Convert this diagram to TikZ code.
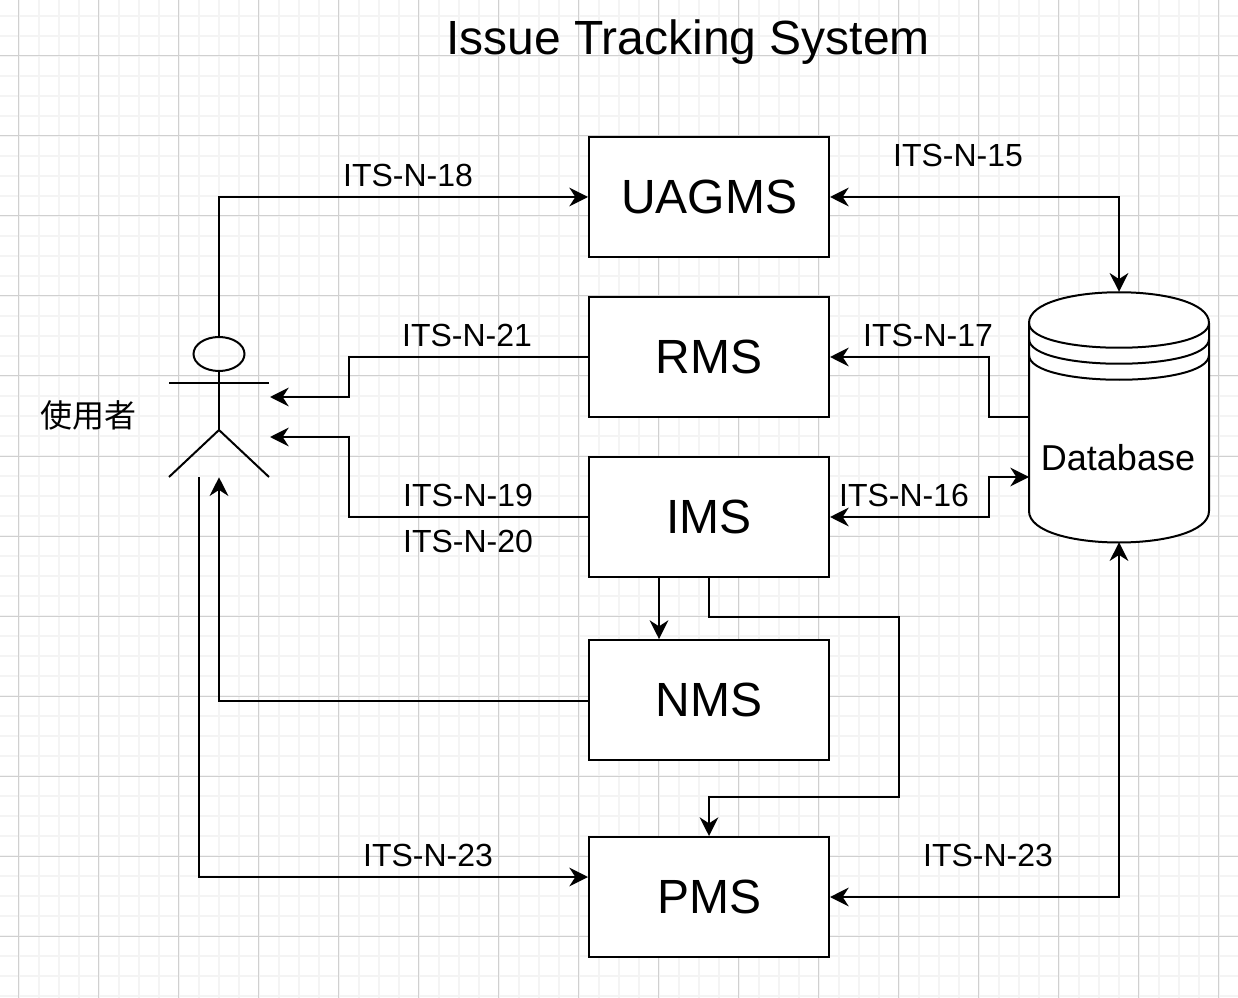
\documentclass[tikz,border=0pt]{standalone}
\usepackage{fontspec}
\setmainfont{Liberation Sans}
\newfontfamily\cjk{Noto Sans CJK SC}
\usetikzlibrary{arrows.meta}
\definecolor{gridminor}{HTML}{F4F4F4}
\definecolor{gridmajor}{HTML}{D0D0D0}
\tikzset{
	sysbox/.style={draw=black,line width=1.5pt,fill=white,minimum width=180pt,minimum height=90pt,inner sep=0pt,font=\fontsize{36}{36}\selectfont},
	tag/.style={inner sep=0pt,font=\fontsize{24}{24}\selectfont},
	link/.style={line width=1.5pt,>={Stealth[length=14pt,width=14pt,inset=4.5pt]}},
}
\begin{document}
\begin{tikzpicture}[x=0.75pt,y=-0.75pt]
	\useasboundingbox (0,0) rectangle (1238,998);
	\fill[white] (0,0) rectangle (1238,998);
	
	%GRID
	\foreach \i in {18.5,38.5,...,1238}{
		\draw[gridminor,line width=1.5pt] (\i,0)--(\i,998);
	}
	\foreach \i in {16,36,...,998}{
		\draw[gridminor,line width=1.5pt] (0,\i)--(1238,\i);
	}
	\foreach \i in {18.5,98.5,...,1238}{
		\draw[gridmajor,line width=0.75pt] (\i,0)--(\i,998);
	}
	\foreach \i in {56,136,...,998}{
		\draw[gridmajor,line width=0.75pt] (0,\i)--(1238,\i);
	}
	
	\node[inner sep=0pt,font=\fontsize{36}{36}\selectfont] (title) at (688,42) {Issue Tracking System};
	
	%SYSTEM BOXES
	\node[sysbox] (uagms) at (709,197) {UAGMS};
	\node[sysbox] (rms) at (709,357) {RMS};
	\node[sysbox] (ims) at (709,517) {IMS};
	\node[sysbox] (nms) at (709,700) {NMS};
	\node[sysbox] (pms) at (709,897) {PMS};
	
	%DATABASE
	\def\x{1029} \def\y{292}
	\draw[line width=1.5pt,fill=white] (\x,\y+31) .. controls (\x,\y-10) and (\x+180,\y-10) .. (\x+180,\y+31)--(\x+180,\y+219) .. controls (\x+180,\y+261) and (\x,\y+261) .. (\x,\y+219)--cycle;
	\foreach \i in {31,47,63}{
		\draw[line width=1.5pt] (\x,\y+\i) .. controls (\x,\y+\i+33) and (\x+180,\y+\i+33) .. (\x+180,\y+\i);
	}
	\node[minimum width=135pt,minimum height=187.5pt,inner sep=0pt] (db) at (1119,417) {};
	\node[inner sep=0pt,font=\fontsize{27}{27}\selectfont] (dbtext) at (1118,458) {Database};
	\coordinate (dbin) at (1029,477);
	
	%ACTOR
	\node[minimum width=75pt,minimum height=105pt,inner sep=0pt] (actor) at (219,407) {};
	\draw[line width=1.5pt] (219,354) ellipse (25.5 and 17);
	\draw[line width=1.5pt] (219,371)--(219,430);
	\draw[line width=1.5pt] (169,383)--(269,383);
	\draw[line width=1.5pt] (169,477)--(219,430)--(269,477);
	\node[inner sep=0pt,font=\cjk\fontsize{24}{24}\selectfont] (user) at (88,415) {使用者};
	\coordinate (actorup) at (270,397);
	\coordinate (actordown) at (270,437);
	
	%CONNECTORS
	\draw[link,->] (actor.north) |- (uagms.west);
	\draw[link,<->] (uagms.east) -| (db.north);
	\draw[link,->] (rms.west)--++(-239,0) |- (actorup);
	\draw[link,->] (db.west)--++(-40,0) |- (rms.east);
	\draw[link,->] (ims.west)--++(-239,0) |- (actordown);
	\draw[link,<->] (ims.east)--++(159,0) |- (dbin);
	\draw[link,->] ([xshift=-37.5pt]ims.south)--([xshift=-37.5pt]nms.north);
	\draw[link,->] (ims.south)--++(0,39)--++(190,0)--++(0,180) -| (pms.north);
	\draw[link,->] ([yshift=-0.75pt]nms.west) -| (actor.south);
	\draw[link,->] ([xshift=-15pt]actor.south) |- ([yshift=15pt]pms.west);
	\draw[link,<->] (pms.east) -| (db.south);
	
	%LABELS
	\node[tag] (n18) at (408,175) {ITS-N-18};
	\node[tag] (n15) at (958,155) {ITS-N-15};
	\node[tag] (n21) at (467,335) {ITS-N-21};
	\node[tag] (n17) at (928,335) {ITS-N-17};
	\node[tag] (n19) at (468,495) {ITS-N-19};
	\node[tag] (n20) at (468,541) {ITS-N-20};
	\node[tag] (n16) at (904,495) {ITS-N-16};
	\node[tag] (n23a) at (428,855) {ITS-N-23};
	\node[tag] (n23b) at (988,855) {ITS-N-23};
\end{tikzpicture}
\end{document}
